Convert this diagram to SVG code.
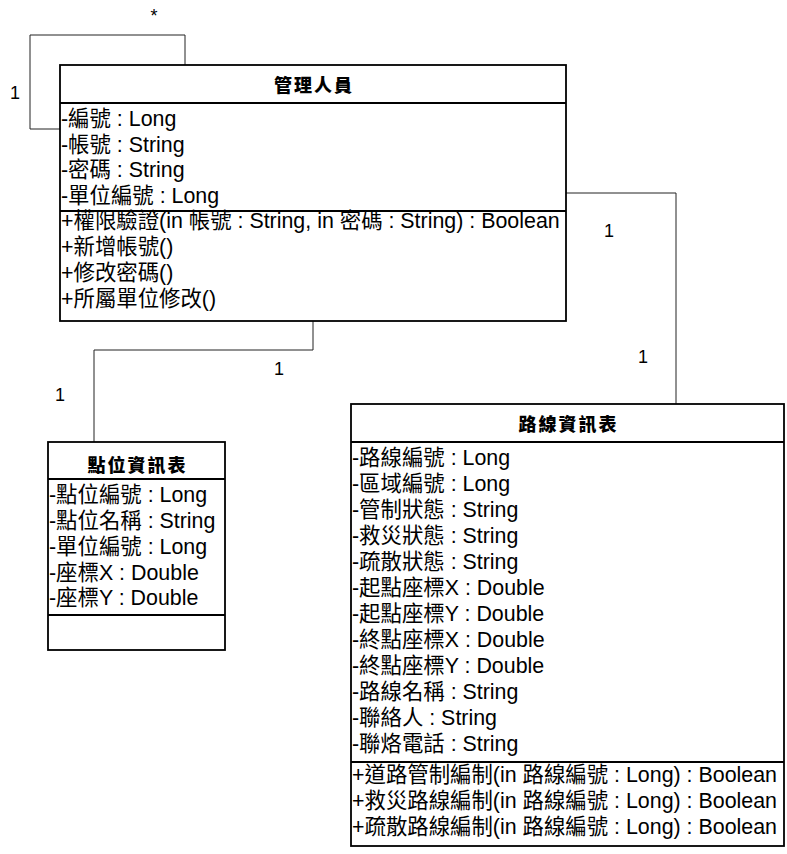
<svg xmlns="http://www.w3.org/2000/svg" width="787" height="854" viewBox="0 0 787 854">
<style>
.box{fill:#fff;stroke:#000;stroke-width:1.8}
.div{stroke:#000;stroke-width:1.8}
.conn{fill:none;stroke:#222;stroke-width:1}
.t{font-family:"Liberation Sans","Noto Sans CJK TC",sans-serif;font-size:21.4px;fill:#000}
.h{font-family:"Noto Sans CJK TC",sans-serif;font-size:18px;font-weight:900;fill:#000;text-anchor:middle;letter-spacing:2px}
.m{font-family:"Liberation Sans",sans-serif;font-size:18px;fill:#000;text-anchor:middle}
</style>
<rect width="787" height="854" fill="#fff"/>
<g id="connectors">
<polyline class="conn" points="60,129 30,129 30,35 185,35 185,65"/>
<polyline class="conn" points="313,321 313,350 94,350 94,442"/>
<polyline class="conn" points="566,193 676,193 676,404"/>
<text class="m" x="154" y="22">*</text>
<text class="m" x="15" y="99">1</text>
<text class="m" x="279" y="375">1</text>
<text class="m" x="60" y="401">1</text>
<text class="m" x="609" y="237">1</text>
<text class="m" x="643" y="363">1</text>
</g>
<g id="class-admin">
<rect class="box" x="60" y="65" width="506" height="256"/>
<line class="div" x1="60" y1="103" x2="566" y2="103"/>
<line class="div" x1="60" y1="211" x2="566" y2="211"/>
<text class="h" x="314" y="92">管理人員</text>
<text class="t" x="61" y="126">-編號 : Long</text>
<text class="t" x="61" y="152">-帳號 : String</text>
<text class="t" x="61" y="177">-密碼 : String</text>
<text class="t" x="61" y="203">-單位編號 : Long</text>
<text class="t" x="61" y="228">+權限驗證(in 帳號 : String, in 密碼 : String) : Boolean</text>
<text class="t" x="61" y="254">+新增帳號()</text>
<text class="t" x="61" y="280">+修改密碼()</text>
<text class="t" x="61" y="306">+所屬單位修改()</text>
</g>
<g id="class-point">
<rect class="box" x="48" y="442" width="177" height="208"/>
<line class="div" x1="48" y1="479" x2="225" y2="479"/>
<line class="div" x1="48" y1="615" x2="225" y2="615"/>
<text class="h" x="137.5" y="472">點位資訊表</text>
<text class="t" x="49" y="502">-點位編號 : Long</text>
<text class="t" x="49" y="528">-點位名稱 : String</text>
<text class="t" x="49" y="554">-單位編號 : Long</text>
<text class="t" x="49" y="580">-座標X : Double</text>
<text class="t" x="49" y="605">-座標Y : Double</text>
</g>
<g id="class-route">
<rect class="box" x="351" y="404" width="433" height="442"/>
<line class="div" x1="351" y1="442" x2="784" y2="442"/>
<line class="div" x1="351" y1="762" x2="784" y2="762"/>
<text class="h" x="568.5" y="431">路線資訊表</text>
<text class="t" x="352" y="465">-路線編號 : Long</text>
<text class="t" x="352" y="491">-區域編號 : Long</text>
<text class="t" x="352" y="517">-管制狀態 : String</text>
<text class="t" x="352" y="543">-救災狀態 : String</text>
<text class="t" x="352" y="569">-疏散狀態 : String</text>
<text class="t" x="352" y="595">-起點座標X : Double</text>
<text class="t" x="352" y="621">-起點座標Y : Double</text>
<text class="t" x="352" y="647">-終點座標X : Double</text>
<text class="t" x="352" y="673">-終點座標Y : Double</text>
<text class="t" x="352" y="699">-路線名稱 : String</text>
<text class="t" x="352" y="725">-聯絡人 : String</text>
<text class="t" x="352" y="751">-聯烙電話 : String</text>
<text class="t" x="352" y="782">+道路管制編制(in 路線編號 : Long) : Boolean</text>
<text class="t" x="352" y="808">+救災路線編制(in 路線編號 : Long) : Boolean</text>
<text class="t" x="352" y="834">+疏散路線編制(in 路線編號 : Long) : Boolean</text>
</g>
</svg>
